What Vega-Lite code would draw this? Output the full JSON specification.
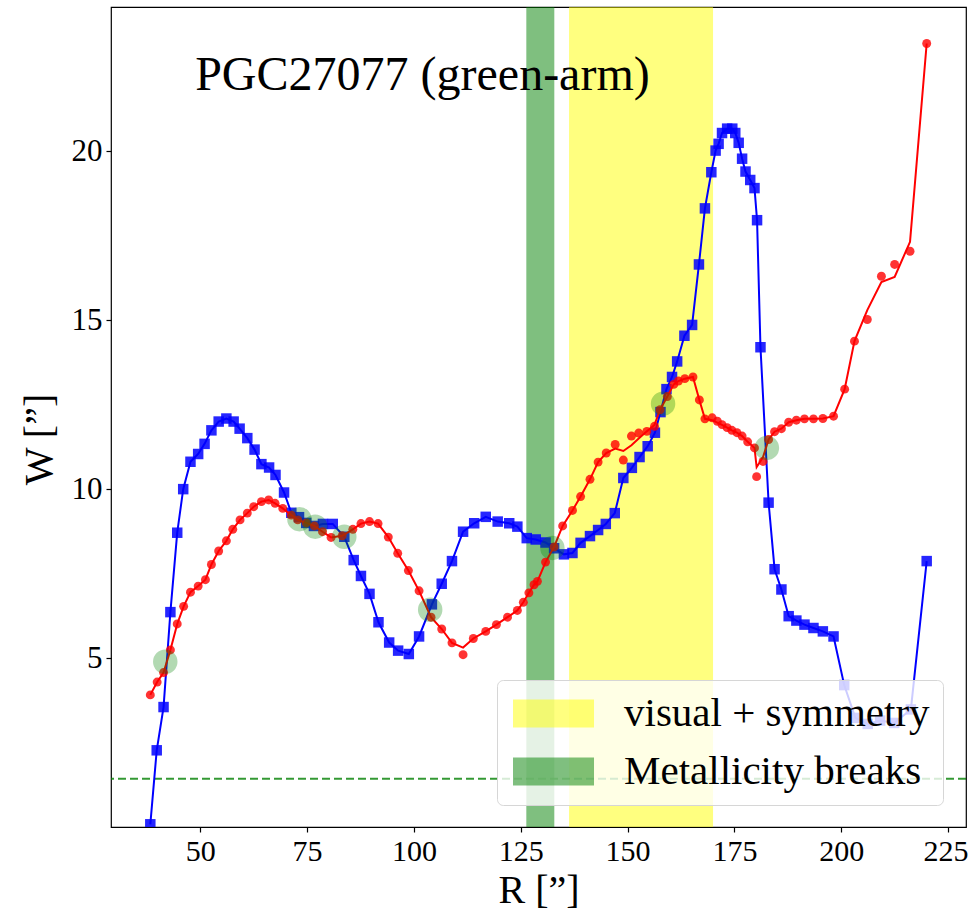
{
  "$schema": "https://vega.github.io/schema/vega-lite/v6.json",
  "width": 855,
  "height": 820,
  "autosize": {"type": "none"},
  "padding": {"left": 111, "top": 7, "right": 3, "bottom": 86},
  "background": "white",
  "config": {
    "view": {"stroke": "#000", "strokeWidth": 1.2},
    "font": "Liberation Serif",
    "axis": {
      "domain": false, "grid": false, "ticks": true,
      "tickColor": "#000", "tickSize": 5, "tickWidth": 1.2,
      "labelFont": "Liberation Serif", "labelColor": "#000", "labelPadding": 4,
      "titleFont": "Liberation Serif", "titleFontSize": 40, "titleFontWeight": "normal", "titleColor": "#000"
    },
    "axisX": {"titlePadding": 4, "labelFontSize": 30, "labelFlush": 20, "labelFlushOffset": 20},
    "axisY": {"titlePadding": 12, "labelFontSize": 31, "titleY": 432}
  },
  "datasets": {
    "blue": [
      {"R":38.3,"W":0.08},{"R":39.8,"W":2.27},{"R":41.4,"W":3.55},{"R":43.0,"W":6.36},{"R":44.6,"W":8.71},
      {"R":46.0,"W":10.0},{"R":47.7,"W":10.81},{"R":49.5,"W":11.04},{"R":51.0,"W":11.34},{"R":52.6,"W":11.74},
      {"R":54.3,"W":12.0},{"R":56.1,"W":12.09},{"R":57.8,"W":12.0},{"R":59.2,"W":11.79},{"R":61.0,"W":11.51},
      {"R":62.7,"W":11.17},{"R":64.3,"W":10.74},{"R":66.1,"W":10.64},{"R":67.6,"W":10.42},{"R":69.6,"W":9.9},
      {"R":71.3,"W":9.3},{"R":73.1,"W":9.17},{"R":74.8,"W":9.0},{"R":76.6,"W":8.91},{"R":78.7,"W":8.97},
      {"R":81.0,"W":8.97},{"R":83.7,"W":8.59},{"R":85.9,"W":7.9},{"R":87.6,"W":7.43},{"R":89.6,"W":6.9},
      {"R":91.7,"W":6.06},{"R":94.2,"W":5.46},{"R":96.3,"W":5.22},{"R":98.8,"W":5.12},{"R":101.2,"W":5.64},
      {"R":104.2,"W":6.59},{"R":106.5,"W":7.2},{"R":108.9,"W":7.87},{"R":111.5,"W":8.74},{"R":114.1,"W":8.99},
      {"R":116.8,"W":9.18},{"R":119.6,"W":9.04},{"R":122.3,"W":8.99},{"R":124.2,"W":8.89},{"R":126.4,"W":8.55},
      {"R":128.5,"W":8.51},{"R":130.8,"W":8.42},{"R":132.8,"W":8.25},{"R":135.1,"W":8.07},{"R":137.1,"W":8.11},
      {"R":139.0,"W":8.41},{"R":141.2,"W":8.61},{"R":143.1,"W":8.79},{"R":144.9,"W":8.97},{"R":147.0,"W":9.29},
      {"R":149.0,"W":10.33},{"R":151.0,"W":10.63},{"R":152.8,"W":10.95},{"R":154.7,"W":11.27},{"R":156.4,"W":11.67},
      {"R":157.7,"W":12.28},{"R":159.1,"W":12.96},{"R":160.4,"W":13.32},{"R":161.6,"W":13.78},{"R":163.3,"W":14.54},
      {"R":165.1,"W":14.86},{"R":166.7,"W":16.65},{"R":168.1,"W":18.31},{"R":169.6,"W":19.38},{"R":170.6,"W":20.02},
      {"R":171.3,"W":20.22},{"R":172.1,"W":20.54},{"R":173.3,"W":20.67},{"R":174.5,"W":20.67},{"R":175.2,"W":20.54},
      {"R":176.0,"W":20.25},{"R":176.8,"W":19.78},{"R":177.6,"W":19.4},{"R":178.7,"W":19.15},{"R":179.7,"W":18.91},
      {"R":180.3,"W":17.96},{"R":181.1,"W":14.2},{"R":183.0,"W":9.6},{"R":184.4,"W":7.63},{"R":186.0,"W":7.03},
      {"R":187.7,"W":6.24},{"R":189.5,"W":6.11},{"R":191.4,"W":5.99},{"R":193.5,"W":5.89},{"R":195.7,"W":5.79},
      {"R":198.2,"W":5.64},{"R":200.7,"W":4.2},{"R":203.3,"W":3.23},{"R":206.2,"W":3.05},{"R":209.1,"W":3.15},
      {"R":212.4,"W":3.08},{"R":216.3,"W":3.48},{"R":220.0,"W":7.87}
    ],
    "reddot": [
      {"R":38.3,"W":3.91},{"R":39.9,"W":4.29},{"R":41.4,"W":4.57},{"R":43.0,"W":5.24},{"R":44.6,"W":6.01},
      {"R":46.1,"W":6.53},{"R":47.7,"W":6.95},{"R":49.5,"W":7.13},{"R":51.2,"W":7.32},{"R":52.6,"W":7.77},
      {"R":54.3,"W":8.17},{"R":56.1,"W":8.47},{"R":57.6,"W":8.81},{"R":59.3,"W":9.09},{"R":61.0,"W":9.29},
      {"R":62.5,"W":9.48},{"R":64.3,"W":9.63},{"R":66.0,"W":9.68},{"R":67.5,"W":9.58},{"R":69.3,"W":9.43},
      {"R":71.3,"W":9.23},{"R":72.8,"W":9.09},{"R":74.8,"W":9.0},{"R":76.7,"W":8.91},{"R":78.6,"W":8.74},
      {"R":80.6,"W":8.57},{"R":83.2,"W":8.62},{"R":85.7,"W":8.81},{"R":87.6,"W":8.98},{"R":89.6,"W":9.04},
      {"R":91.6,"W":8.98},{"R":94.0,"W":8.58},{"R":96.2,"W":8.1},{"R":98.7,"W":7.59},{"R":101.2,"W":6.99},
      {"R":104.0,"W":6.21},{"R":106.5,"W":5.86},{"R":108.9,"W":5.45},{"R":111.5,"W":5.1},{"R":113.9,"W":5.58},
      {"R":116.8,"W":5.79},{"R":119.3,"W":5.99},{"R":121.9,"W":6.21},{"R":124.2,"W":6.41},{"R":125.6,"W":6.65},
      {"R":126.9,"W":6.93},{"R":128.1,"W":7.17},{"R":128.9,"W":7.27},{"R":130.8,"W":7.84},{"R":132.8,"W":8.29},
      {"R":134.8,"W":8.91},{"R":137.1,"W":9.37},{"R":139.0,"W":9.78},{"R":141.2,"W":10.29},{"R":143.1,"W":10.8},
      {"R":145.0,"W":11.07},{"R":147.1,"W":11.32},{"R":149.0,"W":10.86},{"R":150.9,"W":11.57},{"R":152.6,"W":11.66},
      {"R":154.5,"W":11.71},{"R":156.3,"W":11.86},{"R":157.6,"W":12.35},{"R":159.3,"W":12.74},{"R":160.8,"W":13.1},
      {"R":161.9,"W":13.2},{"R":163.4,"W":13.27},{"R":165.3,"W":13.32},{"R":166.8,"W":12.64},{"R":168.1,"W":12.08},
      {"R":169.8,"W":12.11},{"R":171.0,"W":12.01},{"R":172.1,"W":11.91},{"R":173.3,"W":11.82},{"R":174.4,"W":11.74},
      {"R":175.6,"W":11.67},{"R":176.8,"W":11.57},{"R":178.1,"W":11.4},{"R":179.7,"W":11.22},{"R":180.2,"W":10.37},
      {"R":181.7,"W":10.82},{"R":183.0,"W":11.47},{"R":184.4,"W":11.7},{"R":186.0,"W":11.79},{"R":187.7,"W":11.98},
      {"R":189.5,"W":12.04},{"R":191.4,"W":12.08},{"R":193.5,"W":12.08},{"R":195.7,"W":12.09},{"R":198.2,"W":12.16},
      {"R":200.8,"W":12.96},{"R":203.1,"W":14.38},{"R":206.1,"W":15.02},{"R":209.4,"W":16.3},{"R":212.5,"W":16.65},
      {"R":216.1,"W":17.04},{"R":220.0,"W":23.19}
    ],
    "redline": [
      {"R":38.3,"W":3.91},{"R":39.9,"W":4.29},{"R":41.4,"W":4.57},{"R":43.0,"W":5.24},{"R":44.6,"W":6.01},
      {"R":46.1,"W":6.53},{"R":47.7,"W":6.95},{"R":49.5,"W":7.13},{"R":51.2,"W":7.32},{"R":52.6,"W":7.77},
      {"R":54.3,"W":8.17},{"R":56.1,"W":8.47},{"R":57.6,"W":8.81},{"R":59.3,"W":9.09},{"R":61.0,"W":9.29},
      {"R":62.5,"W":9.48},{"R":64.3,"W":9.63},{"R":66.0,"W":9.68},{"R":67.5,"W":9.58},{"R":69.3,"W":9.43},
      {"R":71.3,"W":9.23},{"R":72.8,"W":9.09},{"R":74.8,"W":9.0},{"R":76.7,"W":8.91},{"R":78.6,"W":8.74},
      {"R":80.6,"W":8.57},{"R":83.2,"W":8.62},{"R":85.7,"W":8.81},{"R":87.6,"W":8.98},{"R":89.6,"W":9.04},
      {"R":91.6,"W":8.98},{"R":94.0,"W":8.58},{"R":96.2,"W":8.1},{"R":98.7,"W":7.59},{"R":101.2,"W":6.99},
      {"R":104.0,"W":6.21},{"R":106.5,"W":5.86},{"R":108.9,"W":5.45},{"R":111.5,"W":5.31},{"R":113.9,"W":5.58},
      {"R":116.8,"W":5.79},{"R":119.3,"W":5.99},{"R":121.9,"W":6.21},{"R":124.2,"W":6.41},{"R":125.6,"W":6.65},
      {"R":126.9,"W":6.93},{"R":128.1,"W":7.17},{"R":128.9,"W":7.27},{"R":130.8,"W":7.84},{"R":132.8,"W":8.29},
      {"R":134.8,"W":8.91},{"R":137.1,"W":9.37},{"R":139.0,"W":9.78},{"R":141.2,"W":10.29},{"R":143.1,"W":10.8},
      {"R":145.0,"W":11.07},{"R":147.1,"W":11.2},{"R":149.0,"W":11.13},{"R":150.9,"W":11.3},{"R":152.6,"W":11.5},
      {"R":154.5,"W":11.71},{"R":156.3,"W":11.9},{"R":157.6,"W":12.35},{"R":159.3,"W":12.74},{"R":160.8,"W":13.1},
      {"R":161.9,"W":13.2},{"R":163.4,"W":13.27},{"R":165.3,"W":13.32},{"R":166.8,"W":12.64},{"R":168.1,"W":12.08},
      {"R":169.8,"W":12.04},{"R":171.0,"W":11.97},{"R":172.1,"W":11.9},{"R":173.3,"W":11.82},{"R":174.4,"W":11.74},
      {"R":175.6,"W":11.67},{"R":176.8,"W":11.57},{"R":178.1,"W":11.4},{"R":179.7,"W":11.22},{"R":180.2,"W":10.65},
      {"R":181.7,"W":10.95},{"R":183.0,"W":11.47},{"R":184.4,"W":11.7},{"R":186.0,"W":11.79},{"R":187.7,"W":11.98},
      {"R":189.5,"W":12.04},{"R":191.4,"W":12.08},{"R":193.5,"W":12.08},{"R":195.7,"W":12.09},{"R":198.2,"W":12.16},
      {"R":200.8,"W":12.96},{"R":203.1,"W":14.38},{"R":206.1,"W":15.3},{"R":209.4,"W":16.13},{"R":212.5,"W":16.28},
      {"R":216.1,"W":17.32},{"R":220.0,"W":23.19}
    ],
    "circles": [
      {"R":41.8,"W":4.89},{"R":73.2,"W":9.11},{"R":76.9,"W":8.89},{"R":83.7,"W":8.59},
      {"R":103.8,"W":6.43},{"R":132.4,"W":8.26},{"R":158.3,"W":12.53},{"R":182.6,"W":11.22}
    ],
    "bands": [
      {"label":"visual + symmetry","R":136.3,"R2":170.0},
      {"label":"Metallicity breaks","R":126.3,"R2":132.85}
    ],
    "hline": [{"W":1.43}],
    "annot": [{"R":48.8,"W":21.8,"text":"PGC27077 (green-arm)"}]
  },
  "layer": [
    {
      "data": {"name": "bands"},
      "mark": {"type": "rect", "opacity": 0.5},
      "encoding": {
        "x": {"field": "R", "type": "quantitative", "scale": {"domain": [29.1, 229.2], "nice": false, "zero": false}, "title": "R [”]", "axis": {"values": [50,75,100,125,150,175,200,225]}},
        "x2": {"field": "R2"},
        "color": {
          "field": "label", "type": "nominal",
          "scale": {"domain": ["visual + symmetry", "Metallicity breaks"], "range": ["#ffff00", "#008000"]},
          "legend": {
            "title": null, "orient": "none", "legendX": 386, "legendY": 673,
            "fillColor": "rgba(255,255,255,0.8)", "strokeColor": "#d6d6d6", "cornerRadius": 6, "padding": 13,
            "symbolType": "M-1.25,-1L4.536,-1L4.536,1L-1.25,1Z", "symbolSize": 784, "symbolOpacity": 0.5, "symbolStrokeWidth": 0,
            "labelFont": "Liberation Serif", "labelFontSize": 41, "labelColor": "#000", "labelOffset": 73, "rowPadding": 16, "labelLimit": 500
          }
        }
      }
    },
    {
      "data": {"name": "hline"},
      "mark": {"type": "rule", "color": "#008000", "opacity": 0.8, "strokeWidth": 2, "strokeDash": [8, 4]},
      "encoding": {
        "y": {"field": "W", "type": "quantitative", "scale": {"domain": [0, 24.27], "nice": false, "zero": false}, "title": "W [”]", "axis": {"values": [5,10,15,20]}}
      }
    },
    {
      "data": {"name": "blue"},
      "mark": {"type": "line", "color": "#0000ff", "strokeWidth": 2, "clip": true},
      "encoding": {
        "x": {"field": "R", "type": "quantitative", "scale": {"domain": [29.1, 229.2], "nice": false, "zero": false}, "title": "R [”]", "axis": {"values": [50,75,100,125,150,175,200,225]}},
        "y": {"field": "W", "type": "quantitative", "scale": {"domain": [0, 24.27], "nice": false, "zero": false}, "title": "W [”]", "axis": {"values": [5,10,15,20]}}
      }
    },
    {
      "data": {"name": "blue"},
      "mark": {"type": "point", "shape": "square", "filled": true, "color": "#0000ff", "opacity": 0.85, "size": 110, "clip": true},
      "encoding": {
        "x": {"field": "R", "type": "quantitative", "scale": {"domain": [29.1, 229.2], "nice": false, "zero": false}, "title": "R [”]", "axis": {"values": [50,75,100,125,150,175,200,225]}},
        "y": {"field": "W", "type": "quantitative", "scale": {"domain": [0, 24.27], "nice": false, "zero": false}, "title": "W [”]", "axis": {"values": [5,10,15,20]}}
      }
    },
    {
      "data": {"name": "redline"},
      "mark": {"type": "line", "color": "#ff0000", "strokeWidth": 2, "clip": true},
      "encoding": {
        "x": {"field": "R", "type": "quantitative", "scale": {"domain": [29.1, 229.2], "nice": false, "zero": false}, "title": "R [”]", "axis": {"values": [50,75,100,125,150,175,200,225]}},
        "y": {"field": "W", "type": "quantitative", "scale": {"domain": [0, 24.27], "nice": false, "zero": false}, "title": "W [”]", "axis": {"values": [5,10,15,20]}}
      }
    },
    {
      "data": {"name": "reddot"},
      "mark": {"type": "point", "shape": "circle", "filled": true, "color": "#ff0000", "opacity": 0.8, "size": 80, "clip": true},
      "encoding": {
        "x": {"field": "R", "type": "quantitative", "scale": {"domain": [29.1, 229.2], "nice": false, "zero": false}, "title": "R [”]", "axis": {"values": [50,75,100,125,150,175,200,225]}},
        "y": {"field": "W", "type": "quantitative", "scale": {"domain": [0, 24.27], "nice": false, "zero": false}, "title": "W [”]", "axis": {"values": [5,10,15,20]}}
      }
    },
    {
      "data": {"name": "circles"},
      "mark": {"type": "point", "shape": "circle", "filled": true, "color": "#008000", "opacity": 0.3, "size": 600},
      "encoding": {
        "x": {"field": "R", "type": "quantitative", "scale": {"domain": [29.1, 229.2], "nice": false, "zero": false}, "title": "R [”]", "axis": {"values": [50,75,100,125,150,175,200,225]}},
        "y": {"field": "W", "type": "quantitative", "scale": {"domain": [0, 24.27], "nice": false, "zero": false}, "title": "W [”]", "axis": {"values": [5,10,15,20]}}
      }
    },
    {
      "data": {"name": "annot"},
      "mark": {"type": "text", "font": "Liberation Serif", "fontSize": 48, "align": "left", "baseline": "alphabetic", "color": "#000"},
      "encoding": {
        "x": {"field": "R", "type": "quantitative", "scale": {"domain": [29.1, 229.2], "nice": false, "zero": false}, "title": "R [”]", "axis": {"values": [50,75,100,125,150,175,200,225]}},
        "y": {"field": "W", "type": "quantitative", "scale": {"domain": [0, 24.27], "nice": false, "zero": false}, "title": "W [”]", "axis": {"values": [5,10,15,20]}},
        "text": {"field": "text"}
      }
    }
  ]
}
